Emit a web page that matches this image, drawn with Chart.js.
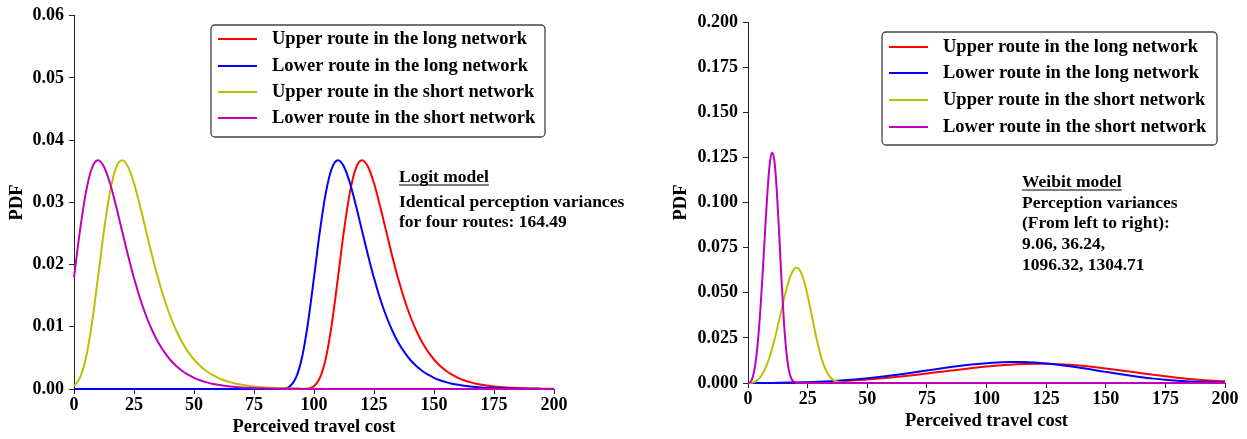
<!DOCTYPE html>
<html>
<head>
<meta charset="utf-8">
<title>PDF of perceived travel cost</title>
<script src="https://cdn.jsdelivr.net/npm/chart.js@4.4.0/dist/chart.umd.min.js"></script>
<style>
  html, body { margin: 0; padding: 0; background: #fff; }
  #page { position: relative; width: 1247px; height: 439px; overflow: hidden; }
  .panel { position: absolute; top: 0; height: 439px; }
  #logitPanel { left: 0; width: 650px; }
  #weibitPanel { left: 660px; width: 587px; }
</style>
</head>
<body>
<div id="page">
  <div class="panel" id="logitPanel"><canvas id="logitChart"></canvas></div>
  <div class="panel" id="weibitPanel"><canvas id="weibitChart"></canvas></div>
</div>
<script>
const serif = '"Liberation Serif", "Times New Roman", "DejaVu Serif", serif'
Chart.defaults.font.family = serif
Chart.defaults.font.weight = 'bold'
Chart.defaults.color = '#000'

const routeLabels = [
    'Upper route in the long network',
    'Lower route in the long network',
    'Upper route in the short network',
    'Lower route in the short network',
]
const routeColors = ['#ff0000', '#0000ff', '#bfbf00', '#bf00bf']

const xTicks = [0, 25, 50, 75, 100, 125, 150, 175, 200]

// ---- Logit model (left panel) ----
const logitX = [
    0, 2.5, 5, 7.5, 10, 12.5, 15, 17.5, 20, 22.5,
    25, 27.5, 30, 32.5, 35, 37.5, 40, 42.5, 45, 47.5,
    50, 52.5, 55, 57.5, 60, 62.5, 65, 67.5, 70, 72.5,
    75, 77.5, 80, 82.5, 85, 87.5, 90, 92.5, 95, 97.5,
    100, 102.5, 105, 107.5, 110, 112.5, 115, 117.5, 120, 122.5,
    125, 127.5, 130, 132.5, 135, 137.5, 140, 142.5, 145, 147.5,
    150, 152.5, 155, 157.5, 160, 162.5, 165, 167.5, 170, 172.5,
    175, 177.5, 180, 182.5, 185, 187.5, 190, 192.5, 195, 197.5,
    200,
]
const logitUpperLong = [
    0, 0, 0, 0, 0, 0, 0, 0, 0, 0,
    0, 0, 0, 0, 0, 0, 0, 0, 0, 0,
    0, 0, 0, 0, 0, 0, 0, 0, 0, 0,
    0, 0, 0, 0, 0, 0, 0, 0, 0.00001, 0.00007,
    0.00046, 0.00182, 0.00507, 0.01064, 0.01794, 0.02549, 0.0317, 0.03556, 0.03679, 0.03574,
    0.03307, 0.02945, 0.02546, 0.02151, 0.01785, 0.0146, 0.01182, 0.00949, 0.00756, 0.006,
    0.00474, 0.00373, 0.00293, 0.0023, 0.0018, 0.00141, 0.0011, 0.00086, 0.00067, 0.00052,
    0.00041, 0.00032, 0.00025, 0.00019, 0.00015, 0.00012, 0.00009, 0.00007, 0.00006, 0.00004,
    0.00003,
]
const logitLowerLong = [
    0, 0, 0, 0, 0, 0, 0, 0, 0, 0,
    0, 0, 0, 0, 0, 0, 0, 0, 0, 0,
    0, 0, 0, 0, 0, 0, 0, 0, 0, 0,
    0, 0, 0, 0, 0.00001, 0.00007, 0.00046, 0.00182, 0.00507, 0.01064,
    0.01794, 0.02549, 0.0317, 0.03556, 0.03679, 0.03574, 0.03307, 0.02945, 0.02546, 0.02151,
    0.01785, 0.0146, 0.01182, 0.00949, 0.00756, 0.006, 0.00474, 0.00373, 0.00293, 0.0023,
    0.0018, 0.00141, 0.0011, 0.00086, 0.00067, 0.00052, 0.00041, 0.00032, 0.00025, 0.00019,
    0.00015, 0.00012, 0.00009, 0.00007, 0.00006, 0.00004, 0.00003, 0.00003, 0.00002, 0.00002,
    0.00001,
]
const logitUpperShort = [
    0.00046, 0.00182, 0.00507, 0.01064, 0.01794, 0.02549, 0.0317, 0.03556, 0.03679, 0.03574,
    0.03307, 0.02945, 0.02546, 0.02151, 0.01785, 0.0146, 0.01182, 0.00949, 0.00756, 0.006,
    0.00474, 0.00373, 0.00293, 0.0023, 0.0018, 0.00141, 0.0011, 0.00086, 0.00067, 0.00052,
    0.00041, 0.00032, 0.00025, 0.00019, 0.00015, 0.00012, 0.00009, 0.00007, 0.00006, 0.00004,
    0.00003, 0.00003, 0.00002, 0.00002, 0.00001, 0, 0, 0, 0, 0,
    0, 0, 0, 0, 0, 0, 0, 0, 0, 0,
    0, 0, 0, 0, 0, 0, 0, 0, 0, 0,
    0, 0, 0, 0, 0, 0, 0, 0, 0, 0,
    0,
]
const logitLowerShort = [
    0.01794, 0.02549, 0.0317, 0.03556, 0.03679, 0.03574, 0.03307, 0.02945, 0.02546, 0.02151,
    0.01785, 0.0146, 0.01182, 0.00949, 0.00756, 0.006, 0.00474, 0.00373, 0.00293, 0.0023,
    0.0018, 0.00141, 0.0011, 0.00086, 0.00067, 0.00052, 0.00041, 0.00032, 0.00025, 0.00019,
    0.00015, 0.00012, 0.00009, 0.00007, 0.00006, 0.00004, 0.00003, 0.00003, 0.00002, 0.00002,
    0.00001, 0, 0, 0, 0, 0, 0, 0, 0, 0,
    0, 0, 0, 0, 0, 0, 0, 0, 0, 0,
    0, 0, 0, 0, 0, 0, 0, 0, 0, 0,
    0, 0, 0, 0, 0, 0, 0, 0, 0, 0,
    0,
]
const logitNote = ['Logit model', 'Identical perception variances', 'for four routes: 164.49']

// ---- Weibit model (right panel) ----
const weibitShortX = [
    0, 1, 2, 3, 4, 5, 6, 7, 8, 9,
    10, 11, 12, 13, 14, 15, 16, 17, 18, 19,
    20, 21, 22, 23, 24, 25, 26, 27, 28, 29,
    30, 31, 32, 33, 34, 35, 36, 37, 38, 39,
    40, 45, 50, 55, 60, 65, 70, 75, 80, 85,
    90, 95, 100, 105, 110, 115, 120, 125, 130, 135,
    140, 145, 150, 155, 160, 165, 170, 175, 180, 185,
    190, 195, 200,
]
const weibitUpperShort = [
    0, 0.000039, 0.000253, 0.000754, 0.001638, 0.002986, 0.004865, 0.007331, 0.010425, 0.014145,
    0.01848, 0.023379, 0.02874, 0.034426, 0.04025, 0.045977, 0.051355, 0.056093, 0.059925, 0.062576,
    0.063855, 0.063626, 0.061845, 0.058594, 0.054045, 0.048476, 0.042225, 0.035664, 0.02917, 0.023077,
    0.01761, 0.012953, 0.009165, 0.006228, 0.004055, 0.002524, 0.0015, 0.00085, 0.000458, 0.000234,
    0.000113, 0, 0, 0, 0, 0, 0, 0, 0, 0,
    0, 0, 0, 0, 0, 0, 0, 0, 0, 0,
    0, 0, 0, 0, 0, 0, 0, 0, 0, 0,
    0, 0, 0,
]
const weibitLowerShort = [
    0, 0.000505, 0.003276, 0.00973, 0.02085, 0.03696, 0.05748, 0.08049, 0.10271, 0.11985,
    0.12771, 0.1237, 0.10809, 0.08445, 0.05834, 0.03522, 0.01833, 0.00811, 0.003, 0.000915,
    0.000225, 0.000044, 0, 0, 0, 0, 0, 0, 0, 0,
    0, 0, 0, 0, 0, 0, 0, 0, 0, 0,
    0, 0, 0, 0, 0, 0, 0, 0, 0, 0,
    0, 0, 0, 0, 0, 0, 0, 0, 0, 0,
    0, 0, 0, 0, 0, 0, 0, 0, 0, 0,
    0, 0, 0,
]
const weibitLongX = [
    0, 5, 10, 15, 20, 25, 30, 35, 40, 45,
    50, 55, 60, 65, 70, 75, 80, 85, 90, 95,
    100, 105, 110, 115, 120, 125, 130, 135, 140, 145,
    150, 155, 160, 165, 170, 175, 180, 185, 190, 195,
    200,
]
const weibitUpperLong = [
    0, 0.000004, 0.0000257, 0.0000769, 0.000167, 0.000305, 0.000498, 0.000752, 0.001074, 0.001466,
    0.001932, 0.002471, 0.00308, 0.003755, 0.004485, 0.005259, 0.00606, 0.006869, 0.007663, 0.008416,
    0.009101, 0.00969, 0.010159, 0.010483, 0.010643, 0.010629, 0.010435, 0.010066, 0.009535, 0.008863,
    0.008079, 0.007215, 0.00631, 0.005396, 0.004513, 0.003684, 0.002935, 0.002278, 0.001723, 0.001265,
    0.000904,
]
const weibitLowerLong = [
    0, 0.0000055, 0.0000355, 0.000106, 0.00023, 0.00042, 0.000686, 0.001035, 0.001475, 0.002009,
    0.002639, 0.00336, 0.004166, 0.005043, 0.005973, 0.006932, 0.007891, 0.008815, 0.009667, 0.010408,
    0.011001, 0.01141, 0.01161, 0.011584, 0.011324, 0.010841, 0.010153, 0.009294, 0.008309, 0.007246,
    0.006157, 0.005095, 0.0041, 0.003202, 0.002426, 0.001781, 0.001263, 0.000866, 0.000573, 0.000365,
    0.000223,
]
const weibitNote = ['Weibit model', 'Perception variances', '(From left to right):', '9.06, 36.24,', '1096.32, 1304.71']

function points(xs, ys) {
    return xs.map((x, i) => ({ x: x, y: ys[i] }))
}

function line(i, xs, ys) {
    return {
        label: routeLabels[i],
        data: points(xs, ys),
        borderColor: routeColors[i],
        backgroundColor: routeColors[i],
        borderWidth: 2,
        pointRadius: 0,
        cubicInterpolationMode: 'monotone',
        fill: false,
        clip: false,
        order: 3 - i, // last route ends up on top, like the original
    }
}

// legend box + model note, drawn on the canvas
function notesPlugin(lg, note) {
    return {
        id: 'notes',
        afterDraw(chart) {
            const ctx = chart.ctx
            ctx.save()
            ctx.fillStyle = '#fff'
            ctx.strokeStyle = '#444'
            ctx.lineWidth = 1.3
            ctx.beginPath()
            if (ctx.roundRect) ctx.roundRect(lg.x, lg.y, lg.w, lg.h, 4)
            else ctx.rect(lg.x, lg.y, lg.w, lg.h)
            ctx.fill()
            ctx.stroke()

            ctx.font = 'bold 18.5px ' + serif
            ctx.textBaseline = 'middle'
            ctx.textAlign = 'left'
            chart.data.datasets.forEach((ds, i) => {
                const y = lg.rows[i]
                ctx.strokeStyle = ds.borderColor
                ctx.lineWidth = 2
                ctx.beginPath()
                ctx.moveTo(lg.x0, y)
                ctx.lineTo(lg.x1, y)
                ctx.stroke()
                ctx.fillStyle = '#000'
                ctx.fillText(ds.label, lg.textX, y)
            })

            ctx.font = 'bold 17.5px ' + serif
            note.text.forEach((t, i) => {
                const y = note.rows[i]
                ctx.fillStyle = '#000'
                ctx.fillText(t, note.x, y)
                if (i === 0) {
                    const w = ctx.measureText(t).width
                    ctx.strokeStyle = '#000'
                    ctx.lineWidth = 1.2
                    ctx.beginPath()
                    ctx.moveTo(note.x, y + 8)
                    ctx.lineTo(note.x + w, y + 8)
                    ctx.stroke()
                }
            })
            ctx.restore()
        },
    }
}

function makeChart(id, datasets, yMax, yStep, digits, box, lg, note) {
    return new Chart(document.getElementById(id), {
        type: 'line',
        data: { datasets: datasets },
        plugins: [notesPlugin(lg, note)],
        options: {
            responsive: true,
            maintainAspectRatio: false,
            animation: false,
            events: [],
            layout: { padding: { left: 0, right: box.right, top: box.top, bottom: 0 } },
            plugins: { legend: { display: false }, tooltip: { enabled: false } },
            scales: {
                x: {
                    type: 'linear',
                    min: 0,
                    max: 200,
                    afterBuildTicks: (s) => { s.ticks = xTicks.map((v) => ({ value: v })) },
                    ticks: { padding: 1, maxRotation: 0, autoSkip: false, font: { size: 18 } },
                    grid: { drawOnChartArea: false, drawTicks: true, tickLength: 5, color: '#222' },
                    border: { color: '#222', width: 1 },
                    title: { display: true, text: 'Perceived travel cost', font: { size: 18.5 }, padding: { top: 0, bottom: box.titleBottom } },
                    afterFit: (s) => { s.height = box.xHeight },
                },
                y: {
                    min: 0,
                    max: yMax,
                    ticks: { stepSize: yStep, padding: 5, font: { size: 18 }, callback: (v) => v.toFixed(digits) },
                    grid: { drawOnChartArea: false, drawTicks: true, tickLength: 5, color: '#222' },
                    border: { color: '#222', width: 1 },
                    title: { display: true, text: 'PDF', font: { size: 18.5 }, padding: { top: box.titleLeft, bottom: 0 } },
                    afterFit: (s) => { s.width = box.yWidth },
                },
            },
        },
    })
}

makeChart('logitChart', [
    line(0, logitX, logitUpperLong),
    line(1, logitX, logitLowerLong),
    line(2, logitX, logitUpperShort),
    line(3, logitX, logitLowerShort),
], 0.06, 0.01, 2,
    { right: 96, top: 15, xHeight: 50, yWidth: 74, titleBottom: 1, titleLeft: 6 },
    { x: 211, y: 25, w: 334, h: 112, rows: [39, 66, 92, 118], x0: 218, x1: 257, textX: 272 },
    { x: 399, rows: [177, 202, 222], text: logitNote })

makeChart('weibitChart', [
    line(0, weibitLongX, weibitUpperLong),
    line(1, weibitLongX, weibitLowerLong),
    line(2, weibitShortX, weibitUpperShort),
    line(3, weibitShortX, weibitLowerShort),
], 0.2, 0.025, 3,
    { right: 22, top: 22, xHeight: 56, yWidth: 88, titleBottom: 7, titleLeft: 10 },
    { x: 222, y: 32, w: 335, h: 113, rows: [47, 73, 100, 127], x0: 229, x1: 268, textX: 283 },
    { x: 362, rows: [182, 203, 223, 244, 265], text: weibitNote })
</script>
</body>
</html>
